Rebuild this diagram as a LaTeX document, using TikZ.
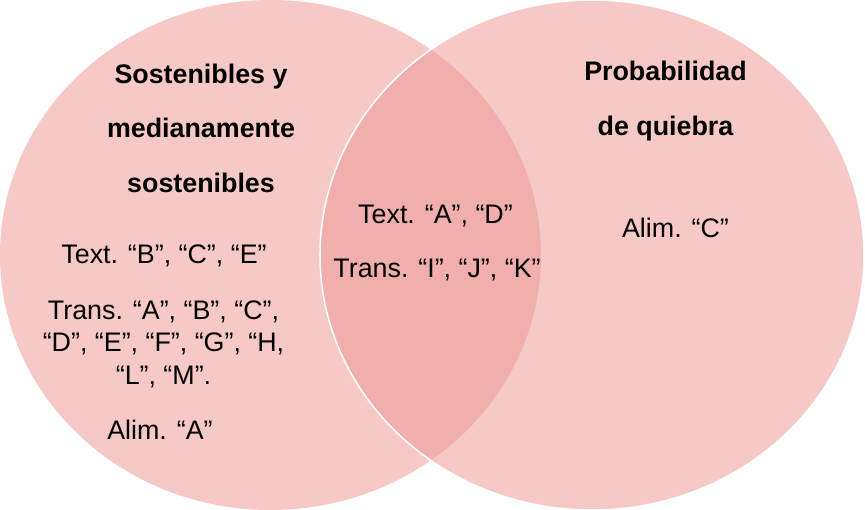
\documentclass[tikz,border=0pt]{standalone}
\usepackage{fontspec}
\setmainfont{Liberation Sans}
\definecolor{vennpink}{RGB}{246,201,199}
\definecolor{venndark}{RGB}{240,175,173}

\begin{document}
\begin{tikzpicture}[x=0.3mm, y=-0.3mm, font=\fontsize{22.9pt}{27.7pt}\selectfont]
	\tikzset{
		lbl/.style={anchor=base, inner sep=0pt, align=center},
		head/.style={lbl, font=\fontsize{22.9pt}{46.5pt}\selectfont\bfseries},
	}
	\useasboundingbox (0,0) rectangle (865,510);
	
	\fill[vennpink] (270.5,255) ellipse (270.5 and 255); % sostenibles
	\fill[vennpink] (592,255) ellipse (272 and 255); % quiebra
	\begin{scope}
		\clip (270.5,255) ellipse (270.5 and 255);
		\fill[venndark] (592,255) ellipse (272 and 255); % overlap
	\end{scope}
	\draw[white, line width=1.3pt] (592,255) ellipse (272 and 255);
	
	% base of a block = its last line
	\node[head] (sost) at (201,192) {Sostenibles y\\medianamente\\sostenibles};
	\node[lbl] (textB) at (164,263) {Text. “B”, “C”, “E”};
	\node[lbl] (transA) at (163.5,384) {Trans. “A”, “B”, “C”,\\“D”, “E”, “F”, “G”, “H,\\“L”, “M”.};
	\node[lbl] (alimA) at (160,439) {Alim. “A”};
	
	\node[lbl] (textA) at (435.5,223) {Text. “A”, “D”};
	\node[lbl] (transI) at (437,277) {Trans. “I”, “J”, “K”};
	
	\node[head] (prob) at (665.5,135) {Probabilidad\\de quiebra};
	\node[lbl] (alimC) at (675.5,237) {Alim. “C”};
\end{tikzpicture}
\end{document}
